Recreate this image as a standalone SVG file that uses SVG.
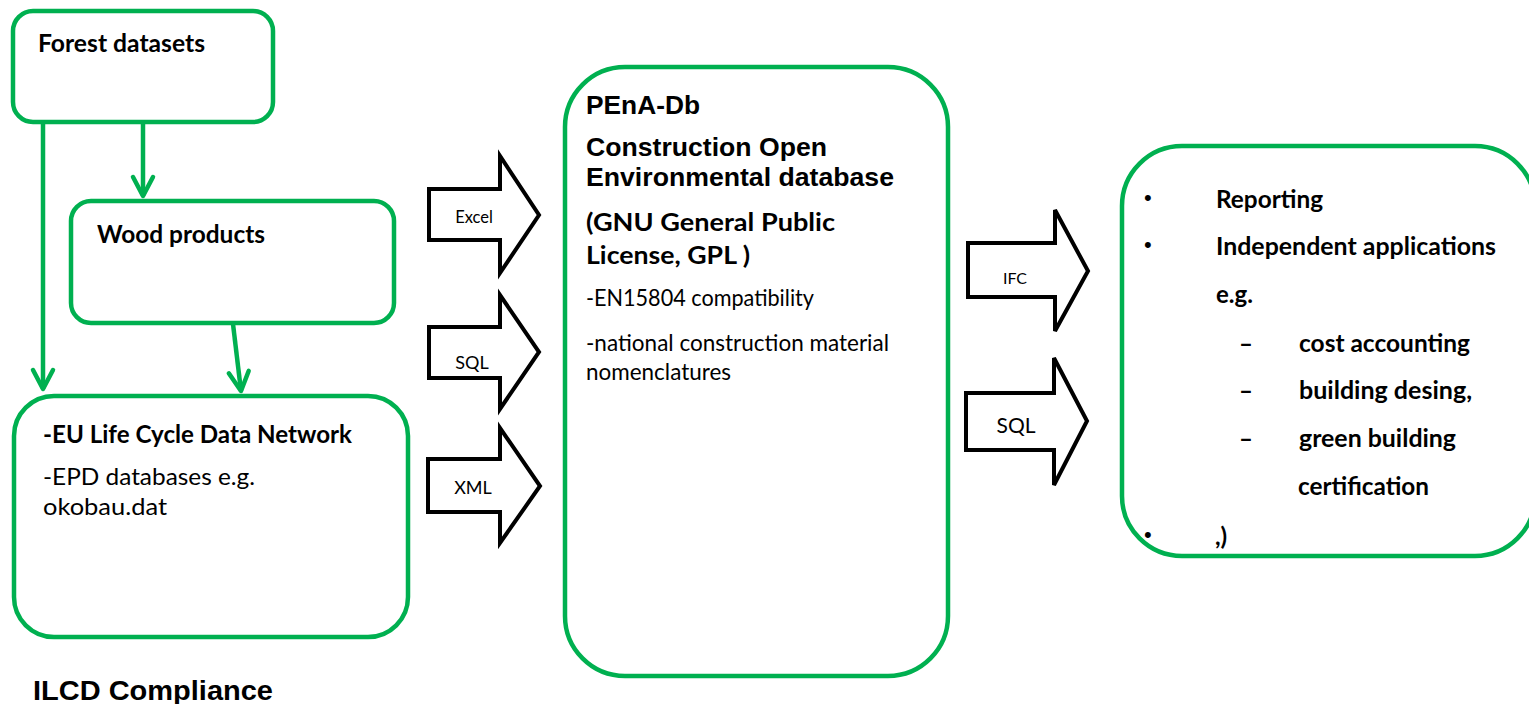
<svg xmlns="http://www.w3.org/2000/svg" width="1529" height="704" viewBox="0 0 1529 704">
<style>
.box{fill:#fff;stroke:#00B050;stroke-width:4.5}
.link{fill:none;stroke:#00B050;stroke-width:4.5}
.blk{fill:#fff;stroke:#000;stroke-width:4;stroke-linejoin:miter}
.cb{font-family:Lato,"Open Sans",sans-serif;font-weight:bold;font-size:24px;fill:#000}
.cr{font-family:Lato,"Open Sans",sans-serif;font-size:24px;fill:#000}
.ab{font-family:"Liberation Sans",Arial,sans-serif;font-weight:bold;fill:#000}
.lbl{font-family:Lato,"Open Sans",sans-serif;fill:#000;text-anchor:middle}
.bul{font-family:"Liberation Sans",Arial,sans-serif;font-size:22px;fill:#000}
</style>
<defs>
<marker id="chev" markerUnits="userSpaceOnUse" markerWidth="40" markerHeight="40" viewBox="-30 -20 40 40" refX="0" refY="0" orient="auto">
<path d="M-19,-10 L0,0 L-19,10" fill="none" stroke="#00B050" stroke-width="4.5" stroke-linecap="round" stroke-linejoin="round"/>
</marker>
</defs>
<rect width="1529" height="704" fill="#fff"/>

<g id="connectors">
<line class="link" x1="43" y1="123" x2="43" y2="389" marker-end="url(#chev)"/>
<line class="link" x1="143" y1="123" x2="143" y2="196" marker-end="url(#chev)"/>
<line class="link" x1="233" y1="324" x2="241" y2="391" marker-end="url(#chev)"/>
<g id="arrow-excel">
<polygon class="blk" points="429,189 500,189 500,156 539,215 500,273 500,240 429,240"/>
<text class="lbl" x="474" y="223" font-size="16.5">Excel</text>
</g>
<g id="arrow-sql-left">
<polygon class="blk" points="429,327 500,327 500,295 539,352 500,409 500,378 429,378"/>
<text class="lbl" x="472" y="369" font-size="18">SQL</text>
</g>
<g id="arrow-xml">
<polygon class="blk" points="428,459 500,459 500,428 540,486 500,543 500,512 428,512"/>
<text class="lbl" x="473" y="494" font-size="18">XML</text>
</g>
<g id="arrow-ifc">
<polygon class="blk" points="968,243 1055,243 1055,210 1088,271 1055,331 1055,297 968,297"/>
<text class="lbl" x="1015" y="284" font-size="16">IFC</text>
</g>
<g id="arrow-sql-right">
<polygon class="blk" points="966,393 1054,393 1054,358 1087,421 1054,485 1054,450 966,450"/>
<text class="lbl" x="1016" y="433" font-size="21">SQL</text>
</g>
</g>

<g id="forest-datasets">
<rect class="box" x="13" y="11" width="260" height="111" rx="20"/>
<text class="cb" x="38" y="52" textLength="167" lengthAdjust="spacingAndGlyphs">Forest datasets</text>
</g>

<g id="wood-products">
<rect class="box" x="71" y="201" width="323" height="122" rx="20"/>
<text class="cb" x="97" y="243" textLength="168" lengthAdjust="spacingAndGlyphs">Wood products</text>
</g>

<g id="eu-lcdn">
<rect class="box" x="14" y="396" width="394" height="241" rx="40"/>
<text class="cb" x="43" y="443" textLength="309" lengthAdjust="spacingAndGlyphs">-EU Life Cycle Data Network</text>
<text class="cr" x="43" y="485" textLength="212" lengthAdjust="spacingAndGlyphs">-EPD databases e.g.</text>
<text class="cr" x="43" y="515" textLength="124" lengthAdjust="spacingAndGlyphs">okobau.dat</text>
</g>

<g id="ilcd">
<text class="ab" x="33" y="700" font-size="28" textLength="240" lengthAdjust="spacingAndGlyphs">ILCD Compliance</text>
</g>

<g id="pena-db">
<rect class="box" x="565" y="67" width="383" height="609" rx="60"/>
<text class="ab" x="586" y="114" font-size="26.5" textLength="114" lengthAdjust="spacingAndGlyphs">PEnA-Db</text>
<text class="ab" x="586" y="156" font-size="26.5" textLength="241" lengthAdjust="spacingAndGlyphs">Construction Open</text>
<text class="ab" x="586" y="186" font-size="26.5" textLength="308" lengthAdjust="spacingAndGlyphs">Environmental database</text>
<text class="cb" x="586" y="231" font-size="26" textLength="249" lengthAdjust="spacingAndGlyphs">(GNU General Public</text>
<text class="cb" x="586" y="264" font-size="26" textLength="164" lengthAdjust="spacingAndGlyphs">License, GPL )</text>
<text class="cr" x="586" y="306" font-size="21.5" textLength="228" lengthAdjust="spacingAndGlyphs">-EN15804 compatibility</text>
<text class="cr" x="586" y="351" font-size="21.5" textLength="303" lengthAdjust="spacingAndGlyphs">-national construction material</text>
<text class="cr" x="586" y="380" font-size="21.5" textLength="145" lengthAdjust="spacingAndGlyphs">nomenclatures</text>
</g>

<g id="applications">
<rect class="box" x="1122" y="146" width="413" height="410" rx="60"/>
<text class="bul" x="1144" y="205">•</text>
<text class="cb" x="1216" y="208" textLength="107" lengthAdjust="spacingAndGlyphs">Reporting</text>
<text class="bul" x="1144" y="252">•</text>
<text class="cb" x="1216" y="255" textLength="280" lengthAdjust="spacingAndGlyphs">Independent applications</text>
<text class="cb" x="1216" y="303">e.g.</text>
<text class="cb" x="1239" y="352">–</text>
<text class="cb" x="1299" y="352" textLength="171" lengthAdjust="spacingAndGlyphs">cost accounting</text>
<text class="cb" x="1239" y="399">–</text>
<text class="cb" x="1299" y="399" textLength="173" lengthAdjust="spacingAndGlyphs">building desing,</text>
<text class="cb" x="1239" y="447">–</text>
<text class="cb" x="1299" y="447" textLength="157" lengthAdjust="spacingAndGlyphs">green building</text>
<text class="cb" x="1298" y="495" textLength="131" lengthAdjust="spacingAndGlyphs">certification</text>
<text class="bul" x="1144" y="542">•</text>
<text class="cb" x="1215" y="545">,)</text>
</g>
</svg>
